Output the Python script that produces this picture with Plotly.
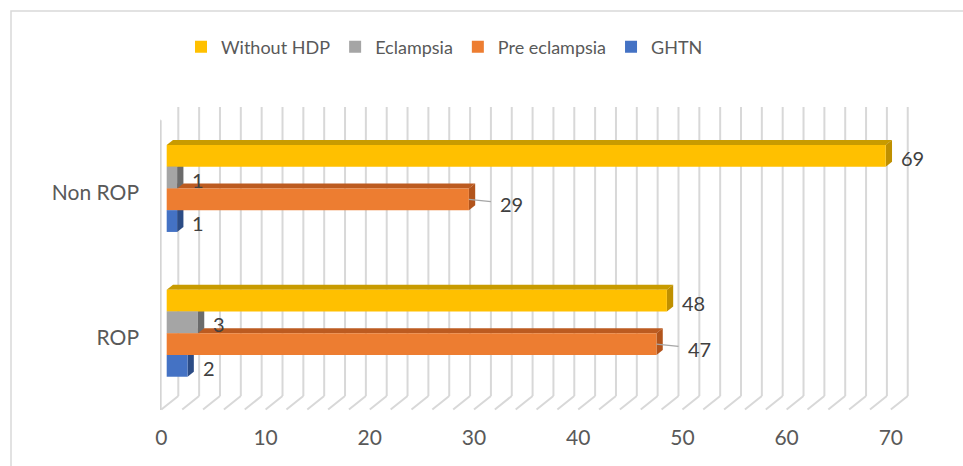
import plotly.graph_objects as go

# ---- data -------------------------------------------------------------
categories = ["Non ROP", "ROP"]
series_names = ["Without HDP", "Eclampsia", "Pre eclampsia", "GHTN"]
without_hdp = [69, 48]
eclampsia = [1, 3]
pre_eclampsia = [29, 47]
ghtn = [1, 2]
x_tick_values = [0, 10, 20, 30, 40, 50, 60, 70]
grid_values = list(range(0, 71, 2))

series_values = [without_hdp, eclampsia, pre_eclampsia, ghtn]
front_colors = ["#FFC000", "#A5A5A5", "#ED7D31", "#4472C4"]
top_colors = ["#C89B00", "#7D7D7D", "#BC5B20", "#2F528F"]
side_colors = ["#BF9000", "#6B6B6B", "#B2541B", "#2C4C85"]
leader_series = {"Pre eclampsia"}

# ---- geometry of the pseudo-3D frame (pixels) ------------------------
W, H = 963, 466
PL, PR, PT, PB = 160, 910, 107, 410          # plot area box
PW, PH = PR - PL, PB - PT

X_RANGE = [-0.643, 71.33]                     # value axis used by the bars
PPU_X = PW / (X_RANGE[1] - X_RANGE[0])
Y_RANGE = [1.5297, -0.5628]                   # category axis (reversed)
PPU_Y = PH / (Y_RANGE[0] - Y_RANGE[1])

BAR_DX = 6.3      # bar depth, horizontal component
SLOPE = 0.8       # vertical / horizontal depth ratio
FRONT_DX = -5.3   # floor front edge relative to bar front
BACK_DX = 11.6    # back wall relative to bar front
FLOOR_FRONT_PX = 409.5
FLOOR_BACK_PX = FLOOR_FRONT_PX - (BACK_DX - FRONT_DX) * SLOPE

GROUP = 0.6
BAR_W = GROUP / len(series_names)
positions = list(range(len(categories)))

grid_color = "#d8d8d8"
axis_color = "#d4d4d4"
text_color = "#595959"
label_color = "#404040"
FONT = "Lato"


def paper_y(py):
    return (PB - py) / PH


fig = go.Figure()

# bars live on the x2/y2 pair; x/y carry the front (labelled) axes
for name, vals, col in zip(series_names, series_values, front_colors):
    fig.add_trace(go.Bar(
        x=vals, y=positions, orientation="h", name=name,
        marker=dict(color=col, line=dict(width=0)),
        xaxis="x2", yaxis="y2", hoverinfo="x+name",
    ))

shapes = []

# back wall gridlines with their floor segments
for v in grid_values:
    xb = v + BACK_DX / PPU_X
    xf = v + FRONT_DX / PPU_X
    shapes.append(dict(type="line", xref="x2", yref="paper", layer="below",
                       x0=xb, x1=xb, y0=1.0, y1=paper_y(FLOOR_BACK_PX),
                       line=dict(color=grid_color, width=2)))
    shapes.append(dict(type="line", xref="x2", yref="paper", layer="below",
                       x0=xb, x1=xf, y0=paper_y(FLOOR_BACK_PX),
                       y1=paper_y(FLOOR_FRONT_PX),
                       line=dict(color=grid_color, width=2)))

# top and side faces of the bars (bottom bar of each group first)
ddx = BAR_DX / PPU_X
ddy = BAR_DX * SLOPE / PPU_Y
for i in reversed(range(len(series_names))):
    for c, v in zip(positions, series_values[i]):
        yt = c - GROUP / 2 + BAR_W * i
        yb = yt + BAR_W
        shapes.append(dict(
            type="path", xref="x2", yref="y2", layer="below",
            path=f"M0,{yt} L{v},{yt} L{v + ddx},{yt - ddy} L{ddx},{yt - ddy} Z",
            fillcolor=top_colors[i], line=dict(width=0)))
        shapes.append(dict(
            type="path", xref="x2", yref="y2", layer="below",
            path=f"M{v},{yt} L{v},{yb} L{v + ddx},{yb - ddy} L{v + ddx},{yt - ddy} Z",
            fillcolor=side_colors[i], line=dict(width=0)))

# front axes sit slightly left of / below the bars
y_shift = (-FRONT_DX) * SLOPE / PPU_Y
Y_FRONT_RANGE = [Y_RANGE[0] - y_shift, Y_RANGE[1] - y_shift]
x_shift = -FRONT_DX / PPU_X
X_FRONT_RANGE = [X_RANGE[0] + x_shift, X_RANGE[1] + x_shift]

# front category axis line and its tick marks
x_axis_line = -1.0 / PPU_X
shapes.append(dict(type="line", xref="x", yref="y", layer="below",
                   x0=x_axis_line, x1=x_axis_line,
                   y0=positions[0] - 0.5, y1=positions[-1] + 0.5,
                   line=dict(color=axis_color, width=2.5)))
for b in [p - 0.5 for p in positions] + [positions[-1] + 0.5]:
    shapes.append(dict(type="line", xref="x", yref="y", layer="below",
                       x0=x_axis_line, x1=x_axis_line - 7.5 / PPU_X,
                       y0=b, y1=b, line=dict(color=axis_color, width=2)))

# chart border
shapes.append(dict(type="rect", xref="paper", yref="paper", layer="above",
                   x0=(11 - PL) / PW, x1=2.0, y0=paper_y(11), y1=-1.0,
                   line=dict(color="#d9d9d9", width=1.5), fillcolor="rgba(0,0,0,0)"))

# value labels
annotations = []
for i, name in enumerate(series_names):
    for c, v in zip(positions, series_values[i]):
        yc = c - GROUP / 2 + BAR_W * (i + 0.5)
        if name in leader_series:
            annotations.append(dict(
                x=v, y=yc, xref="x2", yref="y2", text=str(v),
                showarrow=True, arrowhead=0, arrowwidth=1.3,
                arrowcolor="#a6a6a6", ax=43, ay=4.5, startstandoff=8,
                font=dict(family=FONT, size=20, color=label_color)))
        else:
            annotations.append(dict(
                x=v, y=yc, xref="x2", yref="y2", text=str(v),
                showarrow=False, xanchor="left", xshift=13, yshift=-2,
                font=dict(family=FONT, size=20, color=label_color)))

fig.update_layout(
    width=W, height=H,
    margin=dict(l=PL, r=W - PR, t=PT, b=H - PB, pad=0),
    paper_bgcolor="white", plot_bgcolor="rgba(0,0,0,0)",
    barmode="group", bargap=1 - GROUP, bargroupgap=0,
    font=dict(family=FONT, color=text_color),
    showlegend=True,
    legend=dict(orientation="h", x=0.028, y=1.198, xanchor="left", yanchor="middle",
                font=dict(family=FONT, size=18, color=text_color),
                bgcolor="rgba(0,0,0,0)", itemclick=False),
    xaxis=dict(range=X_FRONT_RANGE,
               tickmode="array", tickvals=x_tick_values,
               ticktext=[str(t) for t in x_tick_values],
               showgrid=False, zeroline=False, showline=False, ticks="",
               ticklabelstandoff=13, fixedrange=True,
               tickfont=dict(family=FONT, size=21, color=text_color)),
    yaxis=dict(range=Y_FRONT_RANGE,
               tickmode="array", tickvals=positions, ticktext=categories,
               showgrid=False, zeroline=False, showline=False, ticks="",
               ticklabelstandoff=20, fixedrange=True,
               tickfont=dict(family=FONT, size=21, color=text_color)),
    xaxis2=dict(overlaying="x", anchor="y2", range=X_RANGE, showgrid=False,
                zeroline=False, showline=False, showticklabels=False,
                fixedrange=True),
    yaxis2=dict(overlaying="y", anchor="x2", range=Y_RANGE, showgrid=False,
                zeroline=False, showline=False, showticklabels=False,
                fixedrange=True),
    shapes=shapes,
    annotations=annotations,
)

fig.write_html("out.html")
